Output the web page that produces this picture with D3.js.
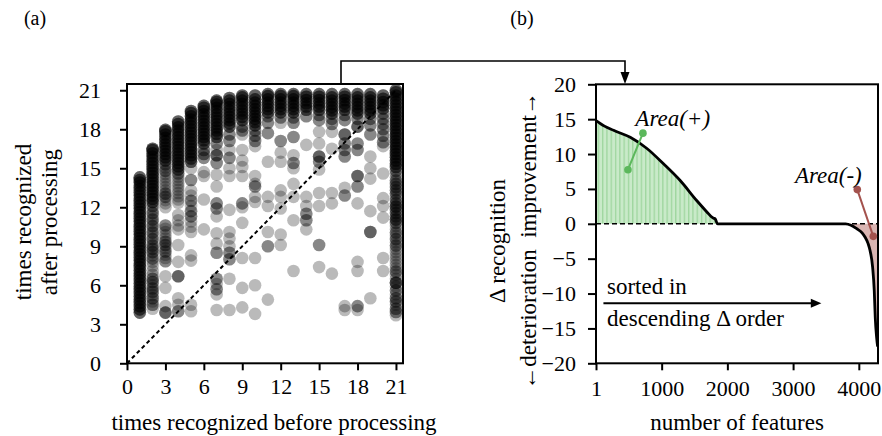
<!DOCTYPE html>
<html>
<head>
<meta charset="utf-8">
<script src="https://cdn.jsdelivr.net/npm/d3@7"></script>
<style>
  body { margin: 0; background: #fff; }
  text { font-family: "Liberation Serif", "Times New Roman", serif; fill: #000; }
</style>
</head>
<body>
<svg id="chart"></svg>
<script>
const width = 882;
const height = 436;

// ---- data: panel (a) ----
// x = times recognized before (1..21)
const beforeValues = d3.range(1, 22);
// densely packed (black) part of each column: "after" values
const darkCore = [
  [3.9,4.15,4.4,4.65,4.9,5.15,5.4,5.65,5.9,6.15,6.4,6.65,6.9,7.15,7.4,7.65,7.9,8.15,8.4,8.65,8.9,9.15,9.4,9.65,9.9,10.15,10.4,10.65,10.9,11.15,11.4,11.65,11.9,12.15,12.4,12.65,12.9,13.15,13.4,13.65,13.9,14.1,14.3],
  [12.4,12.65,12.9,13.15,13.4,13.65,13.9,14.15,14.4,14.65,14.9,15.15,15.4,15.65,15.9,16.15,16.4,16.5],
  [15.6,15.85,16.1,16.35,16.6,16.85,17.1,17.35,17.6,17.85,17.95],
  [14.9,15.15,15.4,15.65,15.9,16.15,16.4,16.65,16.9,17.15,17.4,17.65,17.9,18.15,18.4,18.6],
  [15.5,15.75,16,16.25,16.5,16.75,17,17.25,17.5,17.75,18,18.25,18.5,18.75,19,19.25,19.4],
  [16.9,17.15,17.4,17.65,17.9,18.15,18.4,18.65,18.9,19.15,19.4,19.65,19.8],
  [17.4,17.65,17.9,18.15,18.4,18.65,18.9,19.15,19.4,19.65,19.9,20.1,20.2],
  [18.2,18.45,18.7,18.95,19.2,19.45,19.7,19.95,20.2,20.4],
  [18.7,18.95,19.2,19.45,19.7,19.95,20.2,20.45,20.6],
  [18.3,18.55,18.8,19.05,19.3,19.55,19.8,20.05,20.3,20.6],
  [19.3,19.55,19.8,20.05,20.3,20.55,20.7],
  [19.3,19.55,19.8,20.05,20.3,20.55,20.7],
  [19.3,19.55,19.8,20.05,20.3,20.55,20.7],
  [19.5,19.75,20,20.25,20.5,20.7],
  [19.5,19.75,20,20.25,20.5,20.7],
  [19.2,19.45,19.7,19.95,20.2,20.45,20.7],
  [19.5,19.75,20,20.25,20.5,20.7],
  [19.2,19.45,19.7,19.95,20.2,20.45,20.7],
  [19.2,19.45,19.7,19.95,20.2,20.45,20.7],
  [19.6,19.85,20.1,20.35,20.6],
  [15.1,15.35,15.6,15.85,16.1,16.35,16.6,16.85,17.1,17.35,17.6,17.85,18.1,18.35,18.6,18.85,19.1,19.35,19.6,19.85,20.1,20.35,20.6,20.85,21]
];
const coreOverlap = 3;
// remaining points: [after, overlap count]
const scattered = [
  [],
  [[12.1,2],[11.8,1],[11.55,2],[11.3,1],[11.05,2],[10.8,1],[10.55,2],[10.3,1],[10.05,2],[9.8,1],[9.55,2],[9.3,1],[9.05,2],[8.8,2],[8.55,2],[8.3,1],[8.05,2],[7.8,1],[7.5,1],[7.1,1],[6.8,1],[6.5,2],[6.25,2],[6.0,1],[5.75,2],[5.5,2],[5.25,1],[5.0,2],[4.75,1],[4.5,2],[4.2,1]],
  [[15.3,2],[15.05,1],[14.8,2],[14.55,1],[14.3,1],[14.05,1],[13.8,1],[13.55,1],[13.3,1],[13.05,2],[12.8,2],[12.55,1],[12.3,1],[12.0,1],[10.6,2],[10.35,1],[10.1,1],[9.85,1],[9.6,1],[9.35,2],[9.1,2],[8.85,1],[8.6,2],[8.35,1],[8.1,1],[7.85,2],[6.7,1],[5.8,1],[4.4,1],[3.9,3]],
  [[14.6,2],[14.35,1],[14.1,1],[13.85,1],[13.6,1],[13.35,1],[13.1,1],[12.85,1],[12.6,1],[12.35,1],[11.4,1],[11.0,1],[10.6,1],[10.3,1],[9.1,1],[7.8,1],[6.7,3],[5.0,1],[4.5,1],[4.0,2]],
  [[15.0,1],[14.1,2],[13.3,1],[12.9,1],[12.5,2],[12.1,1],[11.7,2],[11.3,2],[10.9,1],[10.5,1],[10.1,1],[8.3,1],[7.9,1],[4.5,1],[4.0,1]],
  [[16.4,2],[16.1,2],[15.8,2],[14.7,1],[14.4,1],[12.6,1],[10.3,1]],
  [[16.9,2],[16.4,1],[16.0,3],[15.4,2],[14.5,1],[13.6,1],[12.3,2],[11.9,2],[11.3,1],[10.0,1],[9.2,1],[8.5,2],[6.5,2],[6.1,1],[5.7,2],[5.3,1],[4.1,1]],
  [[17.6,2],[17.1,2],[16.4,1],[15.8,2],[15.0,1],[14.4,1],[11.8,1],[10.1,1],[9.6,1],[9.0,1],[8.5,2],[8.0,2],[6.5,1],[4.1,1]],
  [[18.2,2],[17.9,2],[17.6,1],[16.4,1],[15.6,1],[15.1,1],[14.4,1],[12.3,2],[12.0,1],[10.8,1],[8.1,1],[5.8,1],[4.3,1]],
  [[17.9,2],[17.5,2],[17.1,2],[16.7,1],[14.4,1],[13.8,1],[13.6,2],[12.8,1],[12.4,1],[8.1,1],[6.0,1],[3.8,1]],
  [[19.0,2],[18.5,2],[17.7,2],[15.5,1],[12.8,1],[12.1,1],[10.1,1],[9.0,2],[4.9,1]],
  [[18.9,2],[18.5,1],[17.1,2],[16.2,1],[15.5,1],[13.3,1],[12.8,1],[11.9,1],[9.9,1],[9.1,1]],
  [[18.9,2],[18.5,2],[17.4,2],[16.0,1],[15.4,2],[15.0,1],[13.8,1],[12.8,1],[11.0,1],[7.1,1]],
  [[19.0,2],[16.8,1],[12.8,1],[12.1,1],[11.5,2],[11.0,2],[10.3,1]],
  [[19.1,2],[18.7,2],[17.8,1],[16.9,1],[15.9,3],[15.5,2],[14.9,1],[13.1,1],[12.1,1],[9.1,2],[7.4,1]],
  [[18.8,2],[18.4,2],[17.8,1],[16.5,1],[13.1,1],[12.3,1],[6.9,1]],
  [[19.1,2],[18.7,2],[17.6,3],[16.9,2],[16.4,2],[15.9,2],[13.5,1],[12.9,2],[4.4,1],[4.1,1]],
  [[18.8,2],[18.2,3],[16.9,2],[16.4,2],[14.4,3],[13.6,2],[12.3,1],[7.8,1],[7.1,1],[4.4,2],[4.1,1]],
  [[18.8,2],[18.3,2],[17.6,2],[15.9,1],[15.0,1],[14.2,1],[11.7,1],[10.1,3],[5.0,1]],
  [[19.2,2],[18.8,2],[18.4,2],[18.0,2],[17.5,2],[17.0,2],[16.7,1],[14.6,1],[12.7,1],[12.1,1],[11.2,1],[8.1,1],[7.1,1]],
  [[14.8,2],[14.55,1],[14.3,1],[14.05,2],[13.8,2],[13.55,2],[13.3,2],[13.05,2],[12.8,1],[12.55,2],[12.3,2],[12.05,3],[11.8,2],[11.55,2],[11.3,2],[11.05,3],[10.8,2],[10.55,1],[10.3,1],[10.05,2],[9.8,1],[9.55,2],[9.3,1],[9.05,2],[8.8,1],[8.55,1],[8.3,1],[8.05,1],[7.8,1],[7.55,1],[7.3,1],[7.05,2],[6.8,1],[6.5,1],[6.2,4],[5.9,1],[5.6,2],[5.3,1],[5.0,2],[4.75,2],[4.5,1],[4.2,2],[3.95,2],[3.7,1]]
];
const ticksA = [0, 3, 6, 9, 12, 15, 18, 21];

// ---- data: panel (b) ----
const featureIdx = [1, 130, 268, 522, 776, 1028, 1282, 1536, 1688, 1764, 1790, 1814, 1849, 3800, 3880, 3968, 4050, 4094, 4140, 4170, 4210, 4235, 4250, 4271, 4286];
const deltaVals  = [14.8, 14.0, 13.4, 12.4, 10.8, 8.6, 6.2, 3.3, 1.7, 0.95, 0.8, 0.7, 0, 0, -0.2, -0.7, -1.3, -1.9, -2.8, -3.8, -6.2, -9.6, -13.4, -16.3, -17.6];
const ticksBx = [1, 1000, 2000, 3000, 4000];
const ticksBy = [20, 15, 10, 5, 0, -5, -10, -15, -20];

const svg = d3.select("#chart").attr("width", width).attr("height", height);

const defs = svg.append("defs");
const stripes = defs.append("pattern")
  .attr("id", "stripes")
  .attr("patternUnits", "userSpaceOnUse")
  .attr("width", 4.3).attr("height", 10);
stripes.append("rect").attr("width", 4.3).attr("height", 10).attr("fill", "#c9eac9");
stripes.append("rect").attr("x", 0).attr("width", 1.3).attr("height", 10).attr("fill", "#9fd69f");

// ================= panel (a) =================
const xA = d3.scaleLinear().domain([0, 21.55]).range([127, 403]);
const yA = d3.scaleLinear().domain([0, 21.48]).range([363.3, 84]);

const gA = svg.append("g");

const dots = [];
beforeValues.forEach((b, i) => {
  darkCore[i].forEach(v => {
    for (let k = 0; k < coreOverlap; k++) dots.push({ x: b, y: v });
  });
  scattered[i].forEach(([v, n]) => {
    for (let k = 0; k < n; k++) dots.push({ x: b, y: v });
  });
});

gA.selectAll("circle.dot")
  .data(dots)
  .enter().append("circle")
  .attr("class", "dot")
  .attr("cx", d => xA(d.x))
  .attr("cy", d => yA(d.y))
  .attr("r", 6.3)
  .attr("fill", "#000")
  .attr("fill-opacity", 0.27);

// diagonal
gA.append("line")
  .attr("x1", xA(0)).attr("y1", yA(0))
  .attr("x2", xA(21)).attr("y2", yA(21))
  .attr("stroke", "#000").attr("stroke-width", 2)
  .attr("stroke-dasharray", "4,3");

// frame
gA.append("rect")
  .attr("x", xA(0)).attr("y", yA(21.48))
  .attr("width", xA(21.55) - xA(0)).attr("height", yA(0) - yA(21.48))
  .attr("fill", "none").attr("stroke", "#000").attr("stroke-width", 2);

const axA_y = gA.append("g")
  .attr("transform", `translate(${xA(0)},0)`)
  .call(d3.axisLeft(yA).tickValues(ticksA).tickSize(7).tickPadding(19));
const axA_x = gA.append("g")
  .attr("transform", `translate(0,${yA(0)})`)
  .call(d3.axisBottom(xA).tickValues(ticksA).tickSize(7).tickPadding(8));

[axA_y, axA_x].forEach(ax => {
  ax.select(".domain").remove();
  ax.selectAll("line").attr("stroke", "#000").attr("stroke-width", 2);
  ax.selectAll("text").attr("font-size", 22).attr("fill", "#000");
});

gA.append("text").attr("x", 274).attr("y", 430).attr("text-anchor", "middle")
  .attr("font-size", 23).text("times recognized before processing");
gA.append("text").attr("transform", "translate(31,222) rotate(-90)").attr("text-anchor", "middle")
  .attr("font-size", 23).text("times recognized");
gA.append("text").attr("transform", "translate(57,222) rotate(-90)").attr("text-anchor", "middle")
  .attr("font-size", 23).text("after processing");

svg.append("text").attr("x", 35).attr("y", 25).attr("text-anchor", "middle")
  .attr("font-size", 20).text("(a)");
svg.append("text").attr("x", 522).attr("y", 25).attr("text-anchor", "middle")
  .attr("font-size", 20).text("(b)");

// ================= panel (b) =================
const xB = d3.scaleLinear().domain([1, 4292]).range([596, 878]);
const yB = d3.scaleLinear().domain([-20, 20]).range([363.3, 84.3]);
const gB = svg.append("g");

const curve = featureIdx.map((f, i) => ({ f: f, v: deltaVals[i] }));
const posPart = curve.filter(d => d.f <= 1849);
const negPart = curve.filter(d => d.f >= 3800);

const area = d3.area().x(d => xB(d.f)).y0(yB(0)).y1(d => yB(d.v)).curve(d3.curveMonotoneX);

gB.append("path").datum(posPart).attr("d", area).attr("fill", "url(#stripes)");
gB.append("path").datum(negPart.concat([{ f: 4292, v: -17.6 }])).attr("d", area).attr("fill", "#d9b5b2");

gB.append("line")
  .attr("x1", xB(1)).attr("x2", xB(4292))
  .attr("y1", yB(0)).attr("y2", yB(0))
  .attr("stroke", "#000").attr("stroke-width", 1.6).attr("stroke-dasharray", "5,3");

gB.append("path").datum(curve)
  .attr("d", d3.line().x(d => xB(d.f)).y(d => yB(d.v)).curve(d3.curveMonotoneX))
  .attr("fill", "none").attr("stroke", "#000").attr("stroke-width", 2.8);

gB.append("rect")
  .attr("x", xB(1)).attr("y", yB(20))
  .attr("width", xB(4292) - xB(1)).attr("height", yB(-20) - yB(20))
  .attr("fill", "none").attr("stroke", "#000").attr("stroke-width", 2);

const axB_y = gB.append("g")
  .attr("transform", `translate(${xB(1)},0)`)
  .call(d3.axisLeft(yB).tickValues(ticksBy).tickSize(8).tickPadding(12));
const axB_x = gB.append("g")
  .attr("transform", `translate(0,${yB(-20)})`)
  .call(d3.axisBottom(xB).tickValues(ticksBx).tickFormat(d3.format("d")).tickSize(7).tickPadding(10));

[axB_y, axB_x].forEach(ax => {
  ax.select(".domain").remove();
  ax.selectAll("line").attr("stroke", "#000").attr("stroke-width", 2);
  ax.selectAll("text").attr("font-size", 22).attr("fill", "#000");
});

gB.append("text").attr("x", 737).attr("y", 430).attr("text-anchor", "middle")
  .attr("font-size", 23).text("number of features");
gB.append("text").attr("transform", "translate(505,241) rotate(-90)").attr("text-anchor", "middle")
  .attr("font-size", 23).text("\u0394 recognition");
gB.append("text").attr("transform", "translate(536,241) rotate(-90)").attr("text-anchor", "middle")
  .attr("font-size", 23).style("white-space", "pre")
  .text("\u2190deterioration  improvement\u2192");

// annotations
const annPlus = [{ f: 487, v: 7.75 }, { f: 715, v: 13.0 }];
const annMinus = [{ f: 3977, v: 4.9 }, { f: 4220, v: -1.8 }];

function annotate(pts, color) {
  gB.append("line")
    .attr("x1", xB(pts[0].f)).attr("y1", yB(pts[0].v))
    .attr("x2", xB(pts[1].f)).attr("y2", yB(pts[1].v))
    .attr("stroke", color).attr("stroke-width", 2);
  gB.selectAll(null).data(pts).enter().append("circle")
    .attr("cx", d => xB(d.f)).attr("cy", d => yB(d.v))
    .attr("r", 3.8).attr("fill", color);
}
annotate(annPlus, "#5cb85c");
annotate(annMinus, "#a4524d");

gB.append("text").attr("x", xB(600)).attr("y", yB(14.0))
  .attr("font-size", 23).attr("font-style", "italic").text("Area(+)");
gB.append("text").attr("x", xB(4045)).attr("y", yB(5.8)).attr("text-anchor", "end")
  .attr("font-size", 23).attr("font-style", "italic").text("Area(-)");

// sorted-in arrow
gB.append("text").attr("x", xB(168)).attr("y", yB(-10.1))
  .attr("font-size", 23).text("sorted in");
gB.append("text").attr("x", xB(168)).attr("y", yB(-14.6))
  .attr("font-size", 23).text("descending \u0394 order");
const ay = yB(-11.4);
gB.append("line").attr("x1", xB(114)).attr("x2", xB(3290)).attr("y1", ay).attr("y2", ay)
  .attr("stroke", "#000").attr("stroke-width", 2);
gB.append("path")
  .attr("d", `M${xB(3430)},${ay} L${xB(3270)},${ay - 4.5} L${xB(3270)},${ay + 4.5} Z`)
  .attr("fill", "#000");

// connector from (a) to (b)
svg.append("path")
  .attr("d", "M341,84 V61 H625 V74")
  .attr("fill", "none").attr("stroke", "#000").attr("stroke-width", 1.6);
svg.append("path")
  .attr("d", "M625,84 L620.5,72 L629.5,72 Z")
  .attr("fill", "#000");
</script>
</body>
</html>
